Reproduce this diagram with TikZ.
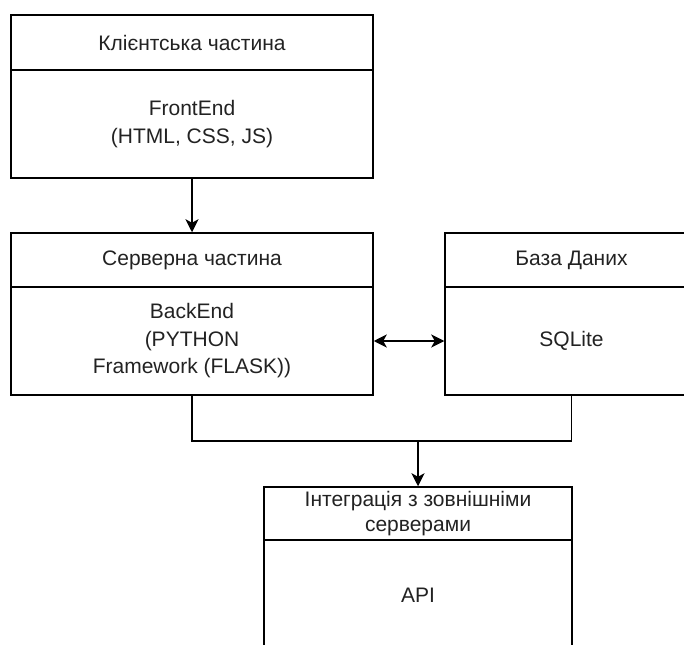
\documentclass[tikz,border=0pt]{standalone}
\usepackage{fontspec}
\setmainfont{Liberation Sans}
\usetikzlibrary{arrows.meta}
\definecolor{txt}{HTML}{222222}
\tikzset{
  boxpart/.style={draw=black, line width=1.5pt, inner sep=0pt, align=center,
    text=txt, font=\fontsize{21}{27.5}\selectfont},
  tip/.style={Stealth[length=13pt, width=13pt, inset=3.5pt]},
  arr/.style={line width=1.5pt, -{Stealth[length=13pt, width=13pt, inset=3.5pt]}},
  darr/.style={line width=1.5pt, {Stealth[length=13pt, width=13pt, inset=3.5pt]}-{Stealth[length=13pt, width=13pt, inset=3.5pt]}},
  conn/.style={line width=1.5pt}
}
\begin{document}
\begin{tikzpicture}[x=1pt, y=-1pt]
\useasboundingbox (0,0) rectangle (684,644);
\clip (0,0) rectangle (684,644);
% Box 1
\node[boxpart, minimum width=362pt, minimum height=55pt] (b1h) at (192,42.5) {Клієнтська частина};
\node[boxpart, minimum width=362pt, minimum height=108pt] (b1b) at (192,124) {FrontEnd\\(HTML, CSS, JS)};
% Box 2
\node[boxpart, minimum width=362pt, minimum height=54pt] (b2h) at (192,260) {Серверна частина};
\node[boxpart, minimum width=362pt, minimum height=108pt] (b2b) at (192,341) {BackEnd\\(PYTHON\\Framework (FLASK))};
% Box 3
\node[boxpart, minimum width=253pt, minimum height=54pt] (b3h) at (571.5,260) {База Даних};
\node[boxpart, minimum width=253pt, minimum height=108pt] (b3b) at (571.5,341) {SQLite};
% Box 4
\node[boxpart, minimum width=308pt, minimum height=53pt, font=\fontsize{21}{25}\selectfont] (b4h) at (418,513.5) {Інтеграція з зовнішніми\\серверами};
\node[boxpart, minimum width=308pt, minimum height=110pt] (b4b) at (418,595) {API};
% Connectors
\coordinate (j) at (418,441);
\draw[arr] (b1b.south) -- (b2h.north);
\draw[darr] (b2b.east) -- (b3b.west);
\draw[conn] (b2b.south) |- (j) -| (b3b.south);
\draw[arr] (j) -- (b4h.north);
\end{tikzpicture}
\end{document}
